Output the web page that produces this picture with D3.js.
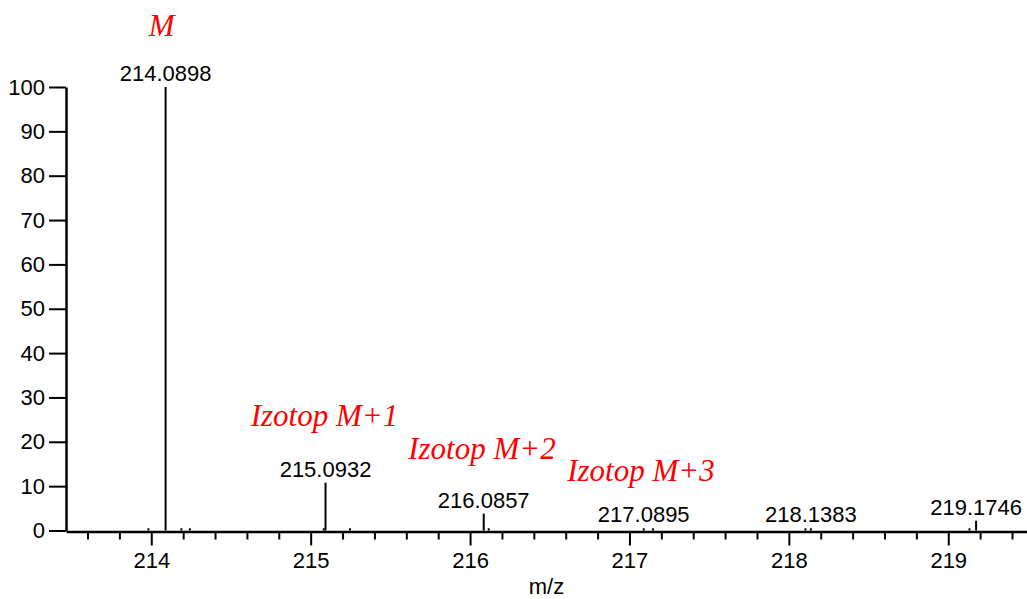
<!DOCTYPE html>
<html>
<head>
<meta charset="utf-8">
<script src="https://cdn.jsdelivr.net/npm/d3@7"></script>
<style>
  body { margin: 0; background: #fff; }
  svg { display: block; }
</style>
</head>
<body>
<svg id="spectrum" width="1027" height="599"></svg>
<script>
// peaks (m/z, relative intensity %)
const peakMz = [213.982, 214.0898, 214.189, 214.242, 215.082, 215.0932, 215.247,
                216.0857, 216.117, 217.0895, 217.148, 218.104, 218.1383, 219.133, 219.1746];
const peakIntensity = [0.5, 100, 0.5, 0.5, 0.5, 10.8, 0.5,
                       3.8, 0.5, 0.5, 0.5, 0.5, 0.5, 0.5, 2.2];

// peaks that carry a m/z label
const labelledMz = [214.0898, 215.0932, 216.0857, 217.0895, 218.1383, 219.1746];

const xMajorTicks = [214, 215, 216, 217, 218, 219];
const yTicks = [0, 10, 20, 30, 40, 50, 60, 70, 80, 90, 100];

// red annotations, anchored in data units
const noteText = ["M", "Izotop M+1", "Izotop M+2", "Izotop M+3"];
const noteMz = [214.065, 214.624, 215.612, 216.609];
const noteLevel = [111.5, 23.5, 16.2, 11.1];

const xTitle = "m/z";

function getChartConfig() {
    let svg = d3.select("#spectrum");
    let left = 66, right = 1027, top = 87, bottom = 530.5;
    return { svg, left, right, top, bottom };
}

function getScales(config) {
    let { left, right, top, bottom } = config;
    let xScale = d3.scaleLinear()
        .domain([213.465, 219.494])
        .range([left, right]);
    let yScale = d3.scaleLinear()
        .domain([0, 100])
        .range([bottom, top]);
    return { xScale, yScale };
}

function drawAxes(config, scales) {
    let { svg, left, right, bottom } = config;
    let { xScale, yScale } = scales;

    // y axis
    let yAxis = d3.axisLeft(yScale)
        .tickValues(yTicks)
        .tickSize(17)
        .tickSizeOuter(0)
        .tickPadding(4);

    let gy = svg.append("g")
        .attr("transform", "translate(" + left + ",0)")
        .call(yAxis);
    gy.select(".domain").attr("stroke-width", 2.5);
    gy.selectAll(".tick line").attr("stroke-width", 2);
    gy.selectAll(".tick text")
        .style("font-family", "'Liberation Sans', Arial, sans-serif")
        .style("font-size", "22px")
        .attr("fill", "#000");

    // minor x ticks every 0.2
    let minor = d3.range(2136, 2195, 2).map(d => d / 10).filter(d => d % 1 !== 0);
    let xMinor = d3.axisBottom(xScale)
        .tickValues(minor)
        .tickSize(8)
        .tickSizeOuter(0)
        .tickFormat("");
    let gxm = svg.append("g")
        .attr("transform", "translate(0," + (bottom + 1) + ")")
        .call(xMinor);
    gxm.select(".domain").remove();
    gxm.selectAll(".tick line").attr("stroke-width", 2);

    // major x ticks
    let xAxis = d3.axisBottom(xScale)
        .tickValues(xMajorTicks)
        .tickSize(14)
        .tickSizeOuter(0)
        .tickPadding(7)
        .tickFormat(d3.format("d"));
    let gx = svg.append("g")
        .attr("transform", "translate(0," + (bottom + 1) + ")")
        .call(xAxis);
    gx.select(".domain").attr("stroke-width", 2.5);
    gx.selectAll(".tick line").attr("stroke-width", 2);
    gx.selectAll(".tick text")
        .style("font-family", "'Liberation Sans', Arial, sans-serif")
        .style("font-size", "22px")
        .attr("fill", "#000");

    svg.append("text")
        .attr("x", (left + right) / 2)
        .attr("y", 594)
        .attr("text-anchor", "middle")
        .style("font-family", "'Liberation Sans', Arial, sans-serif")
        .style("font-size", "22px")
        .text(xTitle);
}

function drawPeaks(config, scales) {
    let { svg } = config;
    let { xScale, yScale } = scales;

    let peaks = peakMz.map((mz, i) => ({ mz: mz, value: peakIntensity[i] }));

    svg.append("g")
        .selectAll("line")
        .data(peaks)
        .enter()
        .append("line")
        .attr("x1", d => xScale(d.mz))
        .attr("x2", d => xScale(d.mz))
        .attr("y1", yScale(0))
        .attr("y2", d => yScale(d.value))
        .attr("stroke", "#000")
        .attr("stroke-width", 2);

    let labelled = peaks.filter(d => labelledMz.includes(d.mz));

    svg.append("g")
        .selectAll("text")
        .data(labelled)
        .enter()
        .append("text")
        .attr("x", d => xScale(d.mz))
        .attr("y", d => yScale(d.value) - 6)
        .attr("text-anchor", "middle")
        .style("font-family", "'Liberation Sans', Arial, sans-serif")
        .style("font-size", "22px")
        .text(d => d.mz.toFixed(4));
}

function drawNotes(config, scales) {
    let { svg } = config;
    let { xScale, yScale } = scales;

    let notes = noteText.map((t, i) => ({ text: t, mz: noteMz[i], level: noteLevel[i] }));

    svg.append("g")
        .selectAll("text")
        .data(notes)
        .enter()
        .append("text")
        .attr("x", d => xScale(d.mz))
        .attr("y", d => yScale(d.level))
        .attr("text-anchor", (d, i) => i === 0 ? "middle" : "start")
        .attr("fill", "#ff0000")
        .style("font-family", "'Liberation Serif', 'Times New Roman', serif")
        .style("font-style", "italic")
        .style("font-size", "31px")
        .text(d => d.text);
}

function drawChart() {
    let config = getChartConfig();
    let scales = getScales(config);
    drawAxes(config, scales);
    drawPeaks(config, scales);
    drawNotes(config, scales);
}

drawChart();
</script>
</body>
</html>
